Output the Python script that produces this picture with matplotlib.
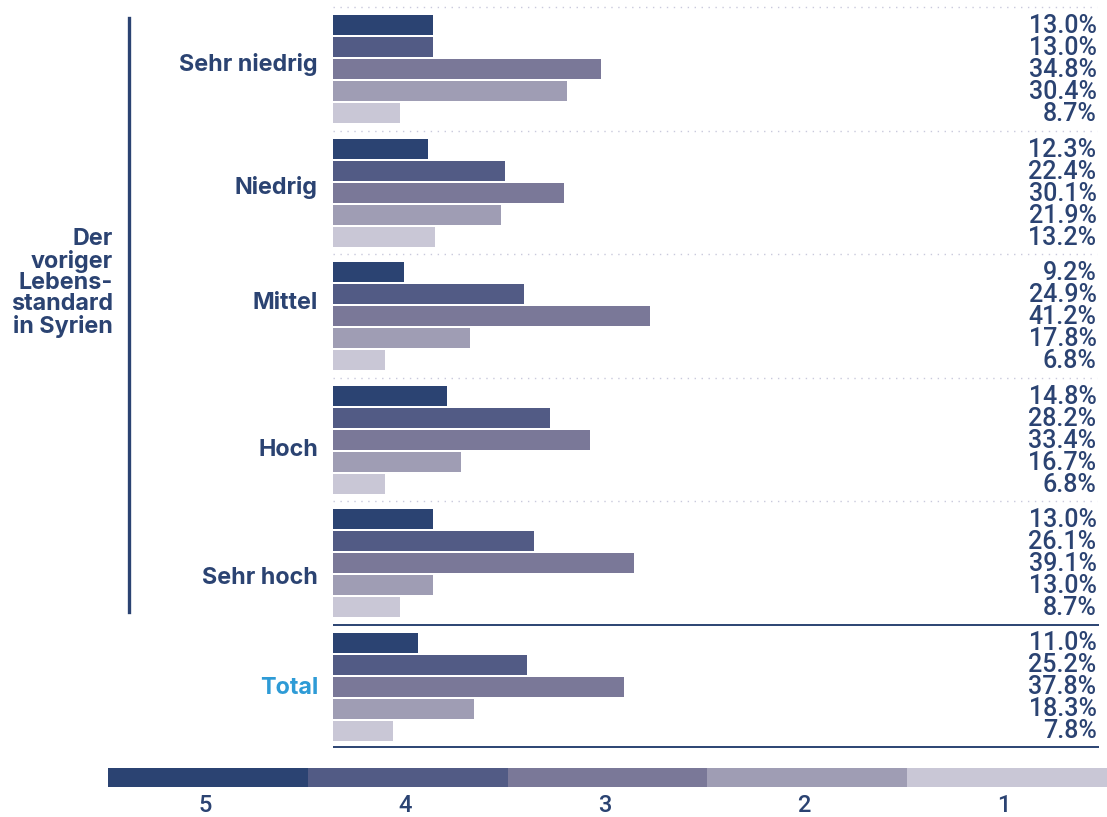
import matplotlib
matplotlib.use('Agg')
import matplotlib.pyplot as plt
from matplotlib.patches import Rectangle

# shares (%) per previous living standard, one list per rating level
categories = ['Sehr niedrig', 'Niedrig', 'Mittel', 'Hoch', 'Sehr hoch', 'Total']
levels = ['5', '4', '3', '2', '1']
share_5 = [13.0, 12.3, 9.2, 14.8, 13.0, 11.0]
share_4 = [13.0, 22.4, 24.9, 28.2, 26.1, 25.2]
share_3 = [34.8, 30.1, 41.2, 33.4, 39.1, 37.8]
share_2 = [30.4, 21.9, 17.8, 16.7, 13.0, 18.3]
share_1 = [8.7, 13.2, 6.8, 6.8, 8.7, 7.8]
shares = [share_5, share_4, share_3, share_2, share_1]
side_title = 'Der\nvoriger\nLebens-\nstandard\nin Syrien'

colors = ['#2b4372', '#525b85', '#7a7898', '#9f9db4', '#c9c7d6']
navy = '#2b4372'
total_blue = '#2e9bd6'
numfont = ['Roboto', 'DejaVu Sans']
bold = ['Inter', 'Roboto', 'DejaVu Sans']

W, H = 1107, 817
fig = plt.figure(figsize=(W / 100, H / 100), dpi=100)

# bar axes: x in percent, y in pixel rows from the top
x0, x1 = 333, 1102
ax = fig.add_axes([x0 / W, 0, (x1 - x0) / W, 1])
ax.set_xlim(0, (x1 - x0) / 7.69)
ax.set_ylim(H, 0)
ax.axis('off')

group_pitch = 123.5
bar_pitch = 22
bar_h = 20
label_dy = [-4, -5, -13, 10, 15, 1]

for g, cat in enumerate(categories):
    top = 7 + g * group_pitch
    if cat == 'Total':
        top = 624.5
    centers = [top + 18 + i * bar_pitch for i in range(len(levels))]
    for i in range(len(levels)):
        v = shares[i][g]
        ax.barh(centers[i], v, height=bar_h, color=colors[i], linewidth=0)
        ax.text(99.3, centers[i] + 1, f'{v:.1f}%', ha='right', va='center',
                fontsize=18, fontweight='medium', color=navy, family=numfont)
    if cat == 'Total':
        ax.plot([0, 99.6], [top, top], color=navy, lw=1.4, solid_capstyle='butt')
        ax.plot([0, 99.6], [747, 747], color=navy, lw=1.4, solid_capstyle='butt')
    else:
        ax.plot([0, 99.4], [top, top], color='#c9c9dc', lw=1.0,
                linestyle=(0, (1, 4)))
    yc = centers[2] + label_dy[g]
    fig.text(318 / W, 1 - yc / H, cat, ha='right', va='center', fontsize=16.8,
             fontweight='bold', family=bold,
             color=total_blue if cat == 'Total' else navy)

# bracket and title on the left
fig.add_artist(plt.Line2D([129 / W, 129 / W], [1 - 18 / H, 1 - 612 / H],
                          color=navy, lw=2.4))
fig.text(113 / W, 1 - 283 / H, side_title, ha='right', va='center',
         fontsize=16.8, fontweight='bold', family=bold, color=navy,
         linespacing=0.97)

# colour key along the bottom
lg = fig.add_axes([108 / W, 1 - 787 / H, (W - 108) / W, 19 / H])
lg.set_xlim(0, len(levels))
lg.set_ylim(0, 1)
lg.axis('off')
for i, lev in enumerate(levels):
    lg.add_patch(Rectangle((i, 0), 1, 1, color=colors[i], linewidth=0))
    fig.text((108 + (i + 0.5) * (W - 108) / len(levels)) / W - 3 / W, 1 - 806 / H,
             lev, ha='center', va='center', fontsize=17, fontweight='medium',
             color=navy, family=numfont)

fig.savefig('out.png', dpi=100)
